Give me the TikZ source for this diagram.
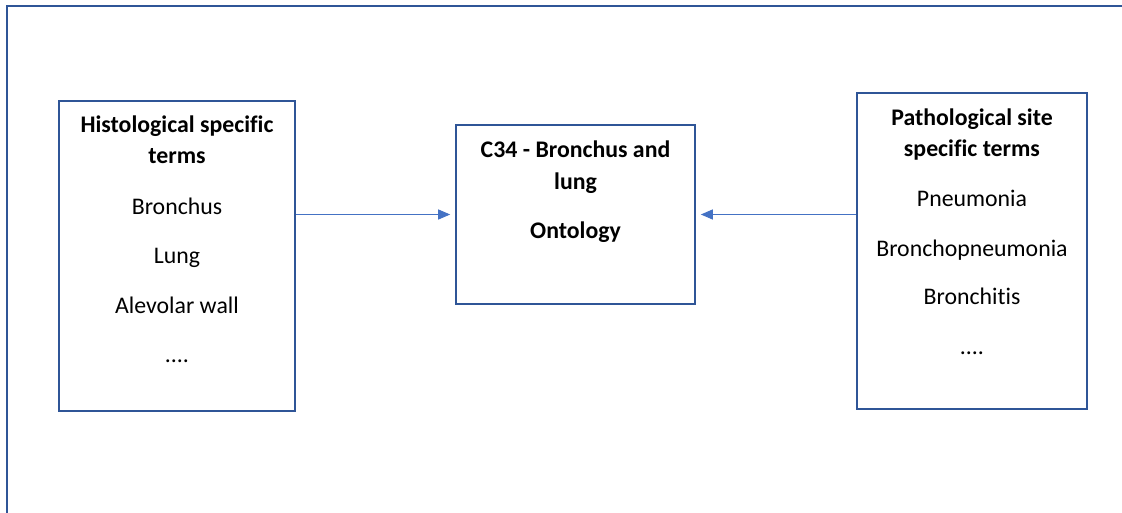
\documentclass[tikz,border=0pt]{standalone}
\usepackage{fontspec}
\setmainfont{Carlito}[Ligatures={NoCommon}]
\usetikzlibrary{arrows.meta}
\definecolor{boxblue}{HTML}{2F5597}
\definecolor{arrowblue}{HTML}{4472C4}
\tikzset{
  termbox/.style={draw=boxblue, line width=1.6pt, inner sep=0pt},
  txt/.style={anchor=base, inner sep=0pt, font=\fontsize{23.8}{28}\selectfont},
  btxt/.style={txt, font=\fontsize{23.8}{28}\selectfont\bfseries},
  link/.style={draw=arrowblue, line width=1pt, -{Triangle[length=12pt,width=10pt]}, shorten >=5pt},
}
\begin{document}
\begin{tikzpicture}[x=1pt,y=-1pt]
\useasboundingbox (0,0) rectangle (1122,513);
% outer frame
\coordinate (fbl) at (7,514);
\coordinate (ftl) at (7,6);
\coordinate (ftr) at (1123,6);
\draw[boxblue, line width=2.2pt] (fbl) -- (ftl) -- (ftr);
% boxes
\node[termbox, minimum width=236pt, minimum height=310pt] (hist) at (177,256) {};
\node[termbox, minimum width=239pt, minimum height=179pt] (onto) at (575.5,214.5) {};
\node[termbox, minimum width=230pt, minimum height=316pt] (path) at (972,251) {};
% left texts
\node[btxt] (h1) at (177,133) {Histological specific};
\node[btxt] (h2) at (177,164) {terms};
\node[txt] (h3) at (177,215) {Bronchus};
\node[txt] (h4) at (177,264) {Lung};
\node[txt] (h5) at (177,313) {Alevolar wall};
\node[txt] (h6) at (177,362) {....};
% center texts
\node[btxt] (o1) at (575.5,158) {C34 - Bronchus and};
\node[btxt] (o2) at (575.5,190) {lung};
\node[btxt] (o3) at (575.5,239) {Ontology};
% right texts
\node[btxt] (p1) at (972,126) {Pathological site};
\node[btxt] (p2) at (972,157) {specific terms};
\node[txt] (p3) at (972,207) {Pneumonia};
\node[txt] (p4) at (972,256) {Bronchopneumonia};
\node[txt] (p5) at (972,304) {Bronchitis};
\node[txt] (p6) at (972,354) {....};
% connectors
\coordinate (a1) at (onto.west -| hist.east);
\coordinate (a2) at (onto.east -| path.west);
\draw[link] (a1) -- (onto.west);
\draw[link] (a2) -- (onto.east);
\end{tikzpicture}
\end{document}
